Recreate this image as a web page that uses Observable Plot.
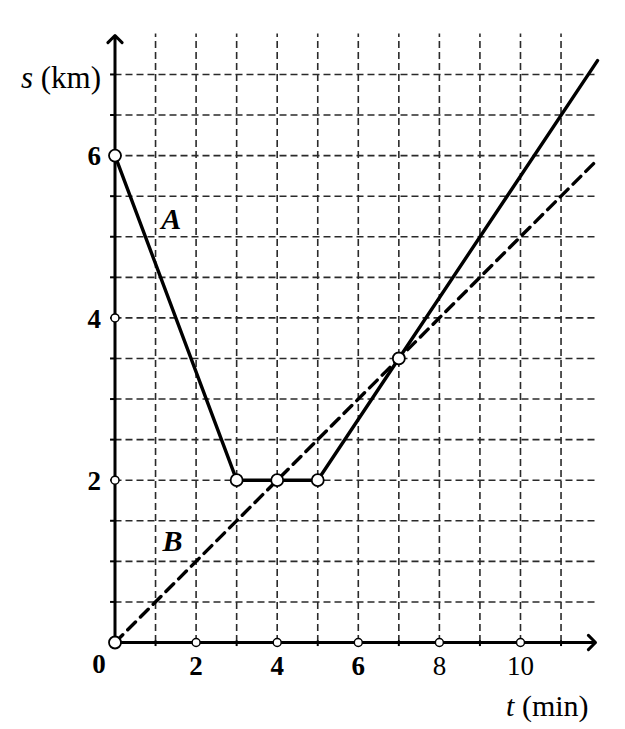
<!DOCTYPE html>
<html>
<head>
<meta charset="utf-8">
<script src="https://cdn.jsdelivr.net/npm/d3@7"></script>
<script src="https://cdn.jsdelivr.net/npm/@observablehq/plot@0.6"></script>
<style>
  html, body { margin: 0; padding: 0; background: #fff; }
  #chart svg { display: block; overflow: visible; }
</style>
</head>
<body>
<div id="chart"></div>
<script>
// ---- data ----
const lineA_t = [0, 3, 5, 7, 11.9];
const lineA_s = [6, 2, 2, 3.5, 7.17];
const lineB_t = [0, 11.9];
const lineB_s = [0, 5.95];
const bigPoints_t = [0, 3, 4, 5, 7, 0];
const bigPoints_s = [6, 2, 2, 2, 3.5, 0];
const xTickValues = [0, 2, 4, 6, 8, 10];
const yTickValues = [2, 4, 6];
const xGrid = [1, 2, 3, 4, 5, 6, 7, 8, 9, 10, 11];
const yGrid = [0.5, 1, 1.5, 2, 2.5, 3, 3.5, 4, 4.5, 5, 5.5, 6, 6.5, 7];
const xMax = 11.85, yMax = 7.48;
const curveLabels = ["A", "B"];
const curveLabel_t = [1.39, 1.42];
const curveLabel_s = [5.22, 1.24];

const lineA = lineA_t.map((t, i) => ({t, s: lineA_s[i]}));
const lineB = lineB_t.map((t, i) => ({t, s: lineB_s[i]}));
const bigPts = bigPoints_t.map((t, i) => ({t, s: bigPoints_s[i]}));
const smallX = xTickValues.filter(v => v !== 0).map(t => ({t, s: 0}));
const smallY = yTickValues.filter(v => v !== 6).map(s => ({t: 0, s}));
const labels = curveLabels.map((k, i) => ({k, t: curveLabel_t[i], s: curveLabel_s[i]}));

const serif = "'Liberation Serif', 'DejaVu Serif', serif";
const digitFont = "'Liberation Serif', serif";

const chart = Plot.plot({
  width: 625,
  height: 729,
  marginLeft: 114.5,
  marginRight: 30,
  marginTop: 35,
  marginBottom: 87,
  x: {domain: [0, xMax], axis: null},
  y: {domain: [0, yMax], axis: null},
  style: {background: "#fff", overflow: "visible"},
  marks: [
    // grid
    Plot.ruleY(yGrid, {x1: 0, x2: 11.9, stroke: "#2a2a2a", strokeWidth: 1.6, strokeDasharray: "7,4"}),
    Plot.ruleX(xGrid, {y1: 0, y2: 7.5, stroke: "#2a2a2a", strokeWidth: 1.6, strokeDasharray: "7,4"}),
    // small ticks on the axes
    Plot.ruleY(yGrid, {x1: -0.11, x2: 0.04, stroke: "#000", strokeWidth: 2}),
    Plot.ruleX(xGrid, {y1: -0.05, y2: 0.02, stroke: "#000", strokeWidth: 2}),
    // axes with arrows
    Plot.arrow([{x1: 0, y1: 0, x2: xMax, y2: 0}], {x1: "x1", y1: "y1", x2: "x2", y2: "y2", stroke: "#000", strokeWidth: 3, headLength: 5, headAngle: 90}),
    Plot.arrow([{x1: 0, y1: 0, x2: 0, y2: yMax}], {x1: "x1", y1: "y1", x2: "x2", y2: "y2", stroke: "#000", strokeWidth: 3, headLength: 5, headAngle: 90}),
    // line B (dashed)
    Plot.line(lineB, {x: "t", y: "s", stroke: "#000", strokeWidth: 3.4, strokeDasharray: "11,7"}),
    // line A
    Plot.line(lineA, {x: "t", y: "s", stroke: "#000", strokeWidth: 3.4}),
    // small circles on axes
    Plot.dot(smallX.concat(smallY), {x: "t", y: "s", r: 4, fill: "#fff", stroke: "#000", strokeWidth: 1.5}),
    // data points
    Plot.dot(bigPts, {x: "t", y: "s", r: 6, fill: "#fff", stroke: "#000", strokeWidth: 1.8}),
    // tick labels
    Plot.text(xTickValues.filter(d => d === 0), {x: d => d, y: 0, text: d => String(d), dx: -16, dy: 22,
      fontFamily: digitFont, fontSize: 27, fontWeight: "bold", fill: "#000"}),
    Plot.text(xTickValues.filter(d => d > 0 && d < 8), {x: d => d, y: 0, text: d => String(d), dy: 24,
      fontFamily: digitFont, fontSize: 27, fontWeight: "bold", fill: "#000"}),
    Plot.text(xTickValues.filter(d => d >= 8), {x: d => d, y: 0, text: d => String(d), dy: 24,
      fontFamily: digitFont, fontSize: 27, fontWeight: "normal", fill: "#000"}),
    Plot.text(yTickValues, {x: 0, y: d => d, text: d => String(d), dx: -14, dy: 1, textAnchor: "end",
      fontFamily: digitFont, fontSize: 27, fontWeight: "bold", fill: "#000"}),
    // axis titles
    Plot.text([{t: 0, s: 7}], {x: "t", y: "s", text: () => "s (km)", dx: -14, dy: 4, textAnchor: "end", fontFamily: serif, fontSize: 31, fill: "#000"}),
    Plot.text([{t: 11.68, s: 0}], {x: "t", y: "s", text: () => "t (min)", dy: 64, textAnchor: "end", fontFamily: serif, fontSize: 30, fill: "#000"}),
    // curve labels
    Plot.text(labels, {x: "t", y: "s", text: "k", fontFamily: serif, fontSize: 30, fontWeight: "bold", fontStyle: "italic", fill: "#000"})
  ]
});

document.getElementById("chart").appendChild(chart);
// italicize the variable letters in the axis titles
d3.select(chart).selectAll("text").each(function() {
  const el = d3.select(this);
  const txt = el.text();
  if (txt === "s (km)" || txt === "t (min)") {
    const [v, rest] = [txt[0], txt.slice(1)];
    el.text(null);
    el.append("tspan").attr("font-style", "italic").text(v);
    el.append("tspan").text(rest);
  }
});
</script>
</body>
</html>
